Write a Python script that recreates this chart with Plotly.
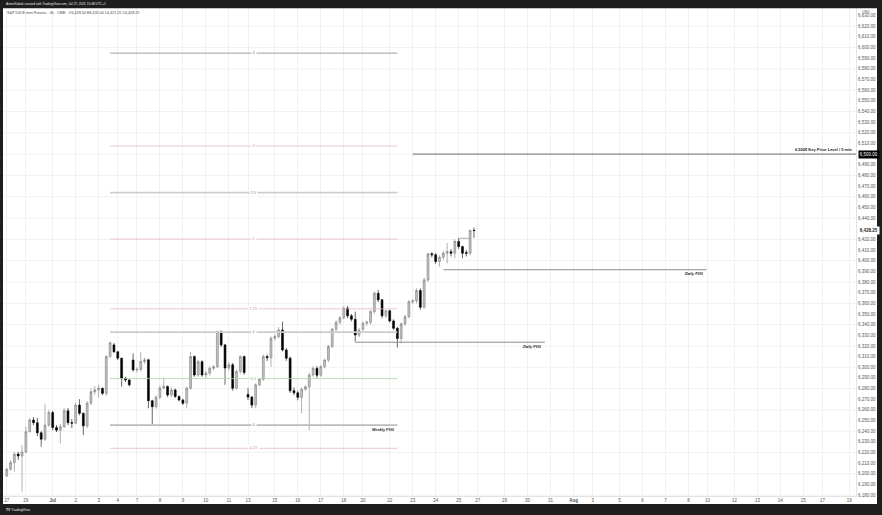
import plotly.graph_objects as go
import numpy as np

# ---------------- data ----------------
opens = [6198.0, 6204.25, 6210.5, 6218.5, 6216.75, 6220.5, 6239.5, 6250.5, 6248.0, 6238.5,
         6232.5, 6245.75, 6257.5, 6243.5, 6241.0, 6244.25, 6259.25, 6248.0, 6247.5, 6264.5,
         6256.75, 6245.0, 6266.25, 6277.0, 6278.75, 6280.25, 6275.5, 6310.0, 6321.0, 6314.5,
         6308.5, 6289.75, 6288.0, 6306.75, 6297.5, 6298.0, 6305.5, 6307.0, 6268.5, 6263.0,
         6271.75, 6280.5, 6282.0, 6274.0, 6278.75, 6272.5, 6269.25, 6266.25, 6280.25, 6310.0,
         6292.75, 6305.25, 6292.75, 6294.5, 6299.0, 6300.5, 6333.25, 6321.0, 6299.25, 6302.25,
         6280.25, 6296.0, 6310.0, 6274.5, 6272.0, 6264.5, 6283.5, 6288.75, 6310.0, 6309.0,
         6327.25, 6328.75, 6335.0, 6316.25, 6308.5, 6278.0, 6276.0, 6271.75, 6279.25, 6281.75,
         6292.75, 6299.0, 6292.5, 6300.5, 6306.75, 6319.5, 6335.75, 6342.25, 6346.5, 6355.5,
         6348.25, 6345.0, 6330.25, 6335.75, 6341.25, 6342.25, 6352.25, 6369.5, 6363.25, 6348.25,
         6353.0, 6343.5, 6336.5, 6327.0, 6340.75, 6347.5, 6361.5, 6362.25, 6372.0, 6356.25,
         6382.0, 6406.5, 6405.5, 6399.25, 6403.25, 6407.0, 6408.5, 6407.0, 6418.0, 6413.25,
         6407.75, 6407.0, 6428.5]
highs = [6205.5, 6213.0, 6220.75, 6220.75, 6227.0, 6244.25, 6252.5, 6253.25, 6252.5, 6240.0,
         6265.25, 6260.0, 6259.0, 6245.75, 6246.75, 6261.75, 6261.75, 6251.5, 6266.5, 6270.0,
         6257.5, 6268.25, 6280.5, 6282.5, 6283.5, 6281.0, 6311.5, 6324.0, 6322.75, 6315.0,
         6309.0, 6291.0, 6289.0, 6313.0, 6300.0, 6314.5, 6309.0, 6308.0, 6269.5, 6274.0,
         6283.0, 6289.75, 6283.0, 6281.0, 6280.0, 6273.5, 6270.5, 6282.0, 6314.5, 6311.0,
         6307.0, 6306.5, 6297.0, 6301.0, 6302.0, 6334.5, 6334.5, 6322.0, 6305.0, 6304.0,
         6298.0, 6311.0, 6311.0, 6280.25, 6273.0, 6285.0, 6290.0, 6312.0, 6312.0, 6329.0,
         6331.0, 6337.75, 6342.75, 6318.0, 6310.0, 6281.0, 6278.0, 6281.0, 6283.0, 6295.0,
         6301.0, 6301.0, 6302.0, 6308.0, 6321.0, 6337.0, 6344.0, 6348.0, 6357.5, 6357.5,
         6350.0, 6352.25, 6337.0, 6343.0, 6344.0, 6354.0, 6371.0, 6372.5, 6364.0, 6354.0,
         6354.0, 6345.0, 6338.0, 6342.0, 6349.0, 6363.0, 6364.0, 6374.0, 6374.0, 6384.0,
         6407.0, 6408.0, 6407.0, 6405.0, 6409.0, 6416.5, 6411.0, 6420.0, 6421.0, 6414.0,
         6410.0, 6429.0, 6431.0]
lows = [6197.0, 6203.0, 6202.0, 6213.0, 6183.25, 6219.5, 6239.0, 6245.75, 6235.5, 6225.5,
        6231.0, 6244.0, 6241.0, 6239.25, 6228.5, 6243.0, 6245.75, 6243.0, 6246.75, 6255.0,
        6236.5, 6243.0, 6264.5, 6274.0, 6272.0, 6274.0, 6273.0, 6309.0, 6313.5, 6306.75,
        6281.75, 6286.0, 6282.0, 6296.0, 6295.0, 6296.0, 6303.0, 6261.5, 6246.75, 6261.0,
        6270.0, 6279.0, 6272.0, 6272.0, 6271.0, 6268.0, 6264.5, 6261.5, 6279.0, 6291.0,
        6291.0, 6291.0, 6290.0, 6292.0, 6297.0, 6299.0, 6319.0, 6283.5, 6297.0, 6278.0,
        6279.0, 6294.0, 6293.0, 6269.25, 6261.75, 6261.5, 6282.0, 6287.0, 6306.0, 6300.5,
        6325.0, 6327.0, 6315.0, 6306.0, 6276.0, 6274.0, 6269.0, 6256.75, 6278.0, 6241.0,
        6291.0, 6290.0, 6291.0, 6299.0, 6305.0, 6318.0, 6334.0, 6340.0, 6345.0, 6346.0,
        6343.0, 6324.0, 6328.0, 6334.0, 6339.0, 6340.0, 6350.0, 6361.0, 6346.0, 6346.0,
        6342.0, 6335.0, 6318.5, 6322.5, 6339.0, 6346.0, 6359.0, 6360.0, 6354.0, 6355.0,
        6380.0, 6403.0, 6397.0, 6394.5, 6401.0, 6397.5, 6404.0, 6402.25, 6411.0, 6402.25,
        6404.0, 6405.0, 6421.25]
closes = [6204.25, 6210.5, 6218.5, 6216.75, 6220.5, 6239.5, 6250.5, 6248.0, 6238.5, 6232.5,
          6245.75, 6257.5, 6243.5, 6241.0, 6244.25, 6259.25, 6248.0, 6247.5, 6264.5, 6256.75,
          6245.0, 6266.25, 6277.0, 6278.75, 6280.25, 6275.5, 6310.0, 6323.0, 6314.5, 6308.5,
          6289.75, 6288.0, 6283.5, 6297.5, 6298.0, 6305.5, 6307.0, 6268.5, 6263.0, 6271.75,
          6280.5, 6282.0, 6274.0, 6278.75, 6272.5, 6269.25, 6266.25, 6280.25, 6310.0, 6292.75,
          6305.25, 6292.75, 6294.5, 6299.0, 6300.5, 6333.25, 6321.0, 6299.25, 6302.25, 6280.25,
          6296.0, 6310.0, 6295.0, 6272.0, 6264.5, 6283.5, 6288.75, 6310.0, 6309.0, 6327.25,
          6328.75, 6335.0, 6316.25, 6308.5, 6278.0, 6276.0, 6271.75, 6279.25, 6281.75, 6292.75,
          6299.0, 6292.5, 6300.5, 6306.75, 6319.5, 6335.75, 6342.25, 6346.5, 6355.5, 6348.25,
          6345.0, 6330.25, 6335.0, 6341.25, 6342.25, 6352.25, 6369.5, 6363.25, 6348.25, 6353.0,
          6343.5, 6336.5, 6327.0, 6340.75, 6347.5, 6361.5, 6362.25, 6372.0, 6356.25, 6382.0,
          6406.5, 6405.5, 6399.25, 6403.25, 6407.0, 6408.5, 6407.0, 6418.0, 6413.25, 6407.0,
          6407.0, 6428.5, 6428.25]

# time axis: shown date labels and number of 4h bars until the next shown label
tick_labels = ["27", "29", "Jul", "2", "3", "4", "7", "8", "9", "10", "11", "13", "15", "16",
               "17", "18", "20", "22", "23", "24", "25", "27", "29", "30", "31", "Aug", "3",
               "5", "6", "7", "8", "10", "12", "13", "14", "15", "17", "19"]
bars_per_tick = [5, 7, 6, 6, 5, 5, 6, 6, 6, 6, 5, 7, 6, 6, 6, 5, 7, 6, 6, 6, 5, 7, 6, 6, 6,
                 5, 7, 6, 6, 6, 5, 7, 6, 6, 6, 5, 7, 6]

# drawings
fib_bar_start, fib_bar_end = 27, 102
fib_zero_price, fib_one_price = 6245.75, 6333.0
fib_levels = [4, 3, 2.5, 2, 1.25, 1, 0.5, 0, -0.25]
fib_texts = ["4", "3", "2.5", "2", "1.25", "1", "0.5", "0", "-0.25"]
key_level_price = 6500.0
key_level_bar = 106
daily_fvg_prices = [6391.5, 6323.5]
daily_fvg_bars = [(114, 182.7), (91, 140.5)]
weekly_fvg_price = 6245.75
small_level = (118, 121, 6421.0)

# ---------------- geometry ----------------
W, H = 882, 515
ML, MR, MT, MB = 3, 26, 8, 19
PW, PH = W - ML - MR, H - MT - MB
x_range = [-0.97, 221.75]
y_range = [6179.2, 6637.1]


def px(xp):
    return (xp - ML) / PW


def py(yp):
    return (H - MB - yp) / PH


tick_pos = list(np.concatenate([[0], np.cumsum(bars_per_tick)[:-1]]))
tick_text = [f"<b>{t}</b>" if t in ("Jul", "Aug") else t for t in tick_labels]
bars = list(range(len(opens)))

# price scale labels every 10 points, leaving room for the two highlighted labels
special_prices = [key_level_price, closes[-1]]
y_ticks = [v for v in range(6180, 6640, 10)
           if all(abs(v - s) > 4 for s in special_prices)]

FONT = "Liberation Sans, Arial, sans-serif"

fig = go.Figure()
fig.add_trace(go.Candlestick(
    x=bars, open=opens, high=highs, low=lows, close=closes,
    increasing=dict(line=dict(color="#7d7d7d", width=0.6), fillcolor="#c4c4c4"),
    decreasing=dict(line=dict(color="#000000", width=0.6), fillcolor="#000000"),
    whiskerwidth=0, hoverinfo="skip", showlegend=False,
))

shapes = []
# horizontal grid every 20 points
for g in range(6180, 6641, 20):
    shapes.append(dict(type="line", xref="paper", yref="y", x0=0, x1=1, y0=g, y1=g,
                       line=dict(color="#f1f1f1", width=1), layer="below"))

# fib tool
fib_range = fib_one_price - fib_zero_price
fib_colors = ["#a0a0a0", "#e9b7c4", "#cfcfcf", "#e9b7c4", "#e9b7c4", "#cdcdcd", "#a9d6ab",
              "#bcbcbc", "#e9b7c4"]
fib_widths = [1, 0.8, 1.8, 0.8, 0.8, 1.8, 0.8, 1.8, 0.8]
fib_text_colors = ["#777777", "#cf8ea0", "#888888", "#cf8ea0", "#cf8ea0", "#777777", "#74b477",
                   "#777777", "#cf8ea0"]
annotations = []
fib_mid = (fib_bar_start + fib_bar_end) / 2
for lv, tx, c, w, tc in zip(fib_levels, fib_texts, fib_colors, fib_widths, fib_text_colors):
    p = fib_zero_price + lv * fib_range
    shapes.append(dict(type="line", xref="x", yref="y", x0=fib_bar_start, x1=fib_bar_end,
                       y0=p, y1=p, line=dict(color=c, width=w)))
    annotations.append(dict(x=fib_mid, y=p, xref="x", yref="y", text=tx, showarrow=False,
                            font=dict(size=4, color=tc, family=FONT), bgcolor="white",
                            borderpad=0.4))

# key level
shapes.append(dict(type="line", xref="x", yref="y", x0=key_level_bar, x1=x_range[1],
                   y0=key_level_price, y1=key_level_price, line=dict(color="#707070", width=1)))
annotations.append(dict(x=x_range[1] - 0.6, y=key_level_price, xref="x", yref="y",
                        text="<b>6,500$ Key Price Level / 5 min</b>", showarrow=False,
                        xanchor="right", yanchor="bottom", yshift=0.5,
                        font=dict(size=4, color="#222222", family=FONT)))

# FVG lines
for p, (b0, b1) in zip(daily_fvg_prices, daily_fvg_bars):
    shapes.append(dict(type="line", xref="x", yref="y", x0=b0, x1=b1, y0=p, y1=p,
                       line=dict(color="#8c8c8c", width=1)))
    annotations.append(dict(x=b1 - 0.4, y=p, xref="x", yref="y", text="<b><i>Daily FVG</i></b>",
                            showarrow=False, xanchor="right", yanchor="top", yshift=-0.5,
                            font=dict(size=3.8, color="#222222", family=FONT)))
annotations.append(dict(x=fib_bar_end - 0.4, y=weekly_fvg_price, xref="x", yref="y",
                        text="<b><i>Weekly FVG</i></b>", showarrow=False, xanchor="right",
                        yanchor="top", yshift=-0.8, font=dict(size=3.8, color="#222222", family=FONT)))
shapes.append(dict(type="line", xref="x", yref="y", x0=small_level[0], x1=small_level[1],
                   y0=small_level[2], y1=small_level[2], line=dict(color="#9a9a9a", width=0.8)))

# frame (dark TradingView snapshot border)
dark = "#1e1e1e"
for x0, x1, y0, y1 in [(0, W, 0, MT + 0.3), (0, W, 504, H), (0, 3, 0, H), (877, W, 0, H)]:
    shapes.append(dict(type="rect", xref="paper", yref="paper", x0=px(x0), x1=px(x1),
                       y0=py(y1), y1=py(y0), fillcolor=dark, line=dict(width=0), layer="above"))

# header / footer texts
annotations.append(dict(x=px(4), y=py(4.2), xref="paper", yref="paper", xanchor="left",
                        yanchor="middle", showarrow=False,
                        text="ArtemSabak created with TradingView.com, Jul 27, 2025 13:48 UTC+1",
                        font=dict(size=3.2, color="#e6e6e6", family=FONT)))
annotations.append(dict(x=px(4), y=py(509.5), xref="paper", yref="paper", xanchor="left",
                        yanchor="middle", showarrow=False,
                        text="<b>TV</b> TradingView",
                        font=dict(size=3.4, color="#e6e6e6", family=FONT)))
annotations.append(dict(x=px(5), y=py(13.3), xref="paper", yref="paper", xanchor="left",
                        yanchor="middle", showarrow=False,
                        text="S&P 500 E-mini Futures · 4h · CME · O6,428.50 H6,431.00 L6,421.25 C6,428.25",
                        font=dict(size=3.7, color="#444444", family=FONT)))
annotations.append(dict(x=px(866.5), y=py(12), xref="paper", yref="paper", xanchor="center",
                        yanchor="middle", showarrow=False, text="USD",
                        font=dict(size=3.8, color="#555555", family=FONT)))
# price scale labels for key level and last price
annotations.append(dict(x=px(857.5), y=key_level_price, xref="paper", yref="y", xanchor="left",
                        yanchor="middle", showarrow=False, text="6,500.00", bgcolor="#000000",
                        borderpad=0.8, font=dict(size=4.5, color="#ffffff", family=FONT)))
annotations.append(dict(x=px(857.5), y=closes[-1], xref="paper", yref="y", xanchor="left",
                        yanchor="middle", showarrow=False, text="<b>6,428.25</b>", bgcolor="#ffffff",
                        borderpad=0.8, font=dict(size=4.5, color="#222222", family=FONT)))

fig.update_layout(
    width=W, height=H,
    margin=dict(l=ML, r=MR, t=MT, b=MB, pad=0, autoexpand=False),
    paper_bgcolor="#ffffff", plot_bgcolor="#ffffff",
    shapes=shapes, annotations=annotations,
    showlegend=False, hovermode=False, dragmode=False,
    xaxis=dict(range=x_range, tickmode="array", tickvals=tick_pos, ticktext=tick_text,
               showgrid=True, gridcolor="#f1f1f1", gridwidth=1, zeroline=False,
               rangeslider=dict(visible=False), showline=True, linecolor="#e3e3e3",
               linewidth=1, ticks="", automargin=False,
               tickfont=dict(size=4.5, color="#555555", family=FONT)),
    yaxis=dict(range=y_range, side="right", tickmode="array", tickvals=y_ticks,
               tickformat=",.2f", showgrid=False, zeroline=False, showline=True,
               linecolor="#e3e3e3", linewidth=1, ticks="", automargin=False,
               tickfont=dict(size=4.5, color="#555555", family=FONT)),
)

fig.write_html("out.html", config={"displayModeBar": False, "staticPlot": True},
               post_script="document.body.style.margin='0';document.body.style.padding='0';")
